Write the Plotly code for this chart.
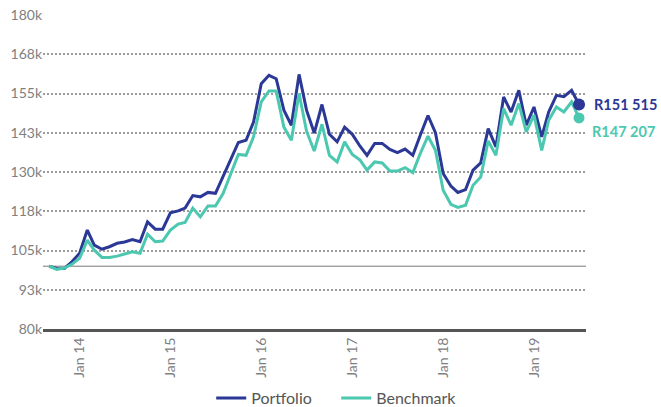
import plotly.graph_objects as go
import pandas as pd

dates = pd.date_range("2013-09-01", "2019-07-01", freq="MS")

portfolio = [
    100.0, 99.3, 99.3, 101.4,
    104.1, 111.5, 106.7, 105.4, 106.2, 107.3, 107.7, 108.5, 107.8, 114.1, 111.8, 111.8,
    117.0, 117.6, 118.5, 122.5, 122.1, 123.5, 123.2, 128.4, 134.1, 139.4, 140.1, 145.9,
    158.1, 160.8, 159.7, 149.7, 144.9, 161.1, 149.7, 142.4, 151.5, 142.0, 139.6, 144.3,
    142.0, 138.2, 135.3, 139.1, 139.1, 137.2, 136.2, 137.3, 135.3, 141.7, 148.0, 142.5,
    129.5, 125.5, 123.5, 124.4, 130.6, 132.9, 143.8, 138.0, 153.9, 149.1, 156.0, 144.9,
    150.7, 141.2, 149.1, 154.4, 154.0, 156.0, 151.515,
]
benchmark = [
    100.0, 99.0, 99.4, 100.6,
    102.5, 108.3, 105.1, 102.8, 102.8, 103.2, 103.9, 104.6, 104.1, 110.2, 107.8, 108.0,
    111.5, 113.4, 113.9, 118.5, 115.7, 119.2, 119.2, 123.2, 129.5, 135.6, 135.3, 141.2,
    152.3, 155.8, 155.8, 144.3, 140.1, 155.0, 143.0, 136.7, 145.2, 135.3, 133.2, 139.6,
    135.6, 133.8, 130.6, 133.2, 132.9, 130.3, 130.3, 131.4, 129.8, 135.9, 141.4, 136.9,
    124.2, 119.7, 118.7, 119.4, 125.8, 128.4, 139.9, 135.3, 150.2, 144.9, 151.8, 142.8,
    148.1, 136.9, 146.5, 150.7, 149.1, 152.3, 147.207,
]

y_tickvals = [80, 92.5, 105, 117.5, 130, 142.5, 155, 167.5, 180]
y_ticktext = ["80k", "93k", "105k", "118k", "130k", "143k", "155k", "168k", "180k"]

navy = "#2B3896"
teal = "#4CC8B0"

fig = go.Figure()
fig.add_trace(go.Scatter(x=dates, y=portfolio, mode="lines", name="Portfolio",
                         line=dict(color=navy, width=3)))
fig.add_trace(go.Scatter(x=dates, y=benchmark, mode="lines", name="Benchmark",
                         line=dict(color=teal, width=3)))
fig.add_trace(go.Scatter(x=[dates[-1]], y=[portfolio[-1]], mode="markers", showlegend=False,
                         marker=dict(color=navy, size=12)))
fig.add_trace(go.Scatter(x=[dates[-1]], y=[benchmark[-1]], mode="markers", showlegend=False,
                         marker=dict(color=teal, size=11)))

fig.add_shape(type="line", xref="paper", x0=0, x1=1, yref="y", y0=100, y1=100,
              line=dict(color="#777777", width=1), layer="below")

fig.add_annotation(x=dates[-1], y=portfolio[-1], text="<b>R151 515</b>", showarrow=False,
                   xanchor="left", xshift=13, font=dict(color=navy, size=14.5, family="Lato"))
fig.add_annotation(x=dates[-1], y=benchmark[-1], text="<b>R147 207</b>", showarrow=False,
                   xanchor="left", xshift=11, yshift=-14, font=dict(color=teal, size=14.5, family="Lato"))

fig.update_layout(
    width=661, height=407,
    margin=dict(l=43, r=75, t=15, b=78, autoexpand=False),
    paper_bgcolor="white", plot_bgcolor="white",
    font=dict(family="Lato", color="#808080", size=14),
    showlegend=True,
    legend=dict(orientation="h", x=0.54, xanchor="center", y=0.022, yanchor="middle",
                yref="container", font=dict(size=16, color="#555555"), itemwidth=30,
                entrywidth=80, entrywidthmode="pixels"),
    xaxis=dict(
        type="date", range=["2013-08-07", "2019-07-29"], automargin=False,
        tick0="2014-01-01", dtick="M12", tickformat="%b %y", tickangle=-90,
        showgrid=False, zeroline=False, showline=True, linecolor="#555555", linewidth=3,
        ticks="", tickfont=dict(size=14, color="#808080"),
    ),
    yaxis=dict(
        range=[80, 180], tickvals=y_tickvals, ticktext=y_ticktext, automargin=False,
        showgrid=True, gridcolor="#9a9a9a", gridwidth=2, griddash="2px,2px",
        zeroline=False, showline=False, ticks="", ticklen=2,
        tickfont=dict(size=14, color="#808080"),
    ),
)

fig.write_html("out.html", config={"displayModeBar": False},
               post_script="document.body.style.margin='0';")
